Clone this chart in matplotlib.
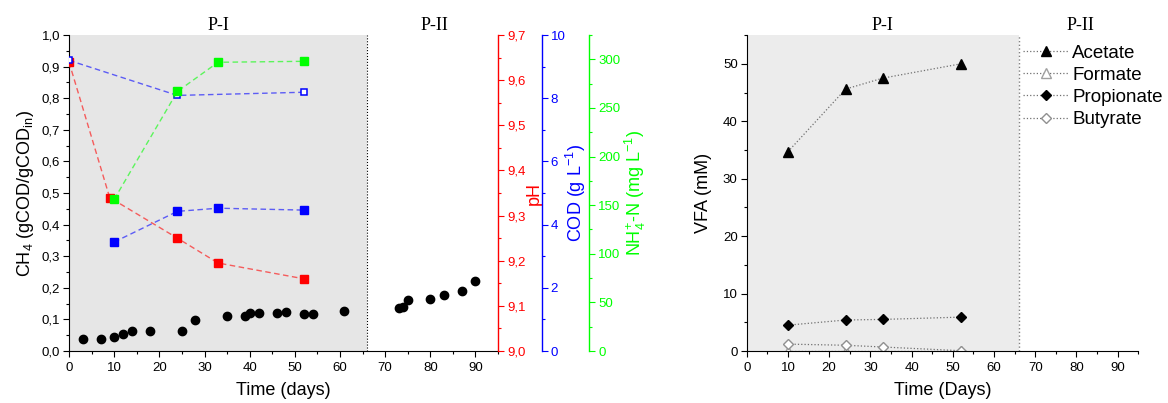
import numpy as np
import matplotlib.pyplot as plt
from matplotlib.ticker import MultipleLocator, FuncFormatter
import matplotlib.transforms as mtransforms

plt.rcParams['font.family'] = ['Liberation Sans', 'DejaVu Sans']
plt.rcParams['mathtext.fontset'] = 'custom'
plt.rcParams['mathtext.rm'] = 'Liberation Sans'
plt.rcParams['mathtext.it'] = 'Liberation Sans:italic'
plt.rcParams['mathtext.bf'] = 'Liberation Sans:bold'

# --- Daten ---
# CH4-Ausbeute (Phase I und II)
tage_ch4 = [3, 7, 10, 12, 14, 18, 25, 28, 35, 39, 40, 42, 46, 48, 52, 54, 61,
            73, 74, 75, 80, 83, 87, 90]
ch4 = [0.039, 0.039, 0.045, 0.053, 0.062, 0.062, 0.062, 0.099, 0.112, 0.112,
       0.119, 0.119, 0.119, 0.122, 0.118, 0.117, 0.127,
       0.135, 0.140, 0.162, 0.165, 0.176, 0.189, 0.221]

tage_ph = [0, 9, 24, 33, 52]
ph = [9.64, 9.34, 9.25, 9.195, 9.16]

tage_cod_ein = [0, 24, 52]
cod_ein = [9.2, 8.09, 8.19]
tage_cod = [10, 24, 33, 52]
cod = [3.45, 4.42, 4.52, 4.46]

tage_nh4 = [10, 24, 33, 52]
nh4 = [156, 267, 297, 298]

# Fettsäuren
tage_vfa = [10, 24, 33, 52]
acetat = [34.7, 45.6, 47.5, 50.0]
formiat = [0, 0, 0, 0]
propionat = [4.5, 5.4, 5.5, 5.9]
butyrat = [1.2, 1.0, 0.7, 0.05]

phase_ende = 66
phasen = ["P-I", "P-II"]
phasen_mitte = [33, 81]

ROT = '#ff0000'
BLAU = '#0000ff'
GRUEN = '#00ff00'


def komma1(v, pos):
    return f"{v:.1f}".replace('.', ',')


def ganzzahl(v, pos):
    return f"{v:.0f}"


def ticks_setzen(ax, farbe='k'):
    ax.tick_params(axis='y', which='major', direction='out', length=4.5, width=0.8,
                   colors=farbe, labelsize=9.5, pad=2)
    ax.tick_params(axis='y', which='minor', direction='out', length=2.5, width=0.8,
                   colors=farbe)


def phasen_titel(ax):
    trans = mtransforms.blended_transform_factory(ax.transData, ax.transAxes)
    for name, x in zip(phasen, phasen_mitte):
        ax.text(x, 1.03, name, transform=trans, ha='center', va='center',
                fontsize=13, family=['Liberation Serif'])


fig = plt.figure(figsize=(11.68, 4.03), dpi=100)

# --- linkes Diagramm ---
ax1 = fig.add_axes([0.0591, 0.129, 0.3673, 0.784])
ax1.axvspan(0, phase_ende, color='#e6e6e6', zorder=0, lw=0)
ax1.axvline(phase_ende, color='k', ls=':', lw=0.8)
ax1.plot(tage_ch4, ch4, 'o', color='k', ms=6, zorder=3)
ax1.set_xlim(0, 95)
ax1.set_ylim(0, 1.0)
ax1.set_xticks(np.arange(0, 91, 10))
ax1.xaxis.set_minor_locator(MultipleLocator(5))
ax1.yaxis.set_major_locator(MultipleLocator(0.1))
ax1.yaxis.set_minor_locator(MultipleLocator(0.05))
ax1.yaxis.set_major_formatter(FuncFormatter(komma1))
ax1.tick_params(axis='x', which='major', direction='out', length=4.5, width=0.8, labelsize=9.5)
ax1.tick_params(axis='x', which='minor', direction='out', length=2.5, width=0.8)
ticks_setzen(ax1)
for s in ['top', 'right']:
    ax1.spines[s].set_visible(False)
ax1.set_xlabel("Time (days)", fontsize=13, labelpad=6)
ax1.set_ylabel(r"CH$_4$ (gCOD/gCOD$_{\mathrm{in}}$)", fontsize=13, labelpad=4)
phasen_titel(ax1)

# pH-Achse
ax_ph = ax1.twinx()
ax_ph.plot(tage_ph, ph, ls=(0, (4, 2.5)), lw=1, color=ROT, alpha=0.6)
ax_ph.plot(tage_ph, ph, 's', color=ROT, ms=5.3, ls='none')
ax_ph.set_ylim(9.0, 9.7)
ax_ph.yaxis.set_major_locator(MultipleLocator(0.1))
ax_ph.yaxis.set_minor_locator(MultipleLocator(0.05))
ax_ph.yaxis.set_major_formatter(FuncFormatter(komma1))
ax_ph.set_ylabel("pH", color=ROT, fontsize=13, labelpad=0)

# CSB-Achse
ax_cod = ax1.twinx()
ax_cod.spines['right'].set_position(('axes', 1.1019))
ax_cod.plot(tage_cod_ein, cod_ein, ls=(0, (4, 2.5)), lw=1, color=BLAU, alpha=0.6)
ax_cod.plot(tage_cod_ein, cod_ein, 's', mfc='white', mec=BLAU, mew=1.1, ms=5, ls='none')
ax_cod.plot(tage_cod, cod, ls=(0, (4, 2.5)), lw=1, color=BLAU, alpha=0.6)
ax_cod.plot(tage_cod, cod, 's', color=BLAU, ms=5.3, ls='none')
ax_cod.set_ylim(0, 10)
ax_cod.yaxis.set_major_locator(MultipleLocator(2))
ax_cod.yaxis.set_minor_locator(MultipleLocator(1))
ax_cod.yaxis.set_major_formatter(FuncFormatter(ganzzahl))
ax_cod.set_ylabel("COD (g L$^{-1}$)", color=BLAU, fontsize=13, labelpad=-1)

# NH4-Achse
ax_nh4 = ax1.twinx()
ax_nh4.spines['right'].set_position(('axes', 1.212))
ax_nh4.plot(tage_nh4, nh4, ls=(0, (4, 2.5)), lw=1, color=GRUEN, alpha=0.6)
ax_nh4.plot(tage_nh4, nh4, 's', color=GRUEN, ms=5.3, ls='none')
ax_nh4.set_ylim(0, 325)
ax_nh4.yaxis.set_major_locator(MultipleLocator(50))
ax_nh4.yaxis.set_minor_locator(MultipleLocator(25))
ax_nh4.yaxis.set_major_formatter(FuncFormatter(ganzzahl))
ax_nh4.set_ylabel("NH$_4^{+}$-N (mg L$^{-1}$)", color=GRUEN, fontsize=13, labelpad=2)

for ax, farbe in [(ax_ph, ROT), (ax_cod, BLAU), (ax_nh4, GRUEN)]:
    ticks_setzen(ax, farbe)
    for s in ['top', 'left', 'bottom']:
        ax.spines[s].set_visible(False)
    ax.spines['right'].set_color(farbe)
    ax.spines['right'].set_linewidth(1.0)

# --- rechtes Diagramm ---
ax2 = fig.add_axes([0.6393, 0.129, 0.3353, 0.784])
ax2.axvspan(0, phase_ende, color='#ececec', zorder=0, lw=0)
ax2.axvline(phase_ende, color='#808080', ls=':', lw=1.0)
linie = dict(ls=':', lw=0.9, color='#707070')
ax2.plot(tage_vfa, acetat, marker='^', ms=6.5, mfc='k', mec='k', label='Acetate', **linie)
ax2.plot(tage_vfa, formiat, marker='^', ms=6.5, mfc='white', mec='#a0a0a0', label='Formate', **linie)
ax2.plot(tage_vfa, propionat, marker='D', ms=5.5, mfc='k', mec='k', label='Propionate', **linie)
ax2.plot(tage_vfa, butyrat, marker='D', ms=5.5, mfc='white', mec='#909090', label='Butyrate', **linie)
ax2.set_xlim(0, 95)
ax2.set_ylim(0, 55)
ax2.set_xticks(np.arange(0, 91, 10))
ax2.xaxis.set_minor_locator(MultipleLocator(5))
ax2.yaxis.set_major_locator(MultipleLocator(10))
ax2.yaxis.set_minor_locator(MultipleLocator(5))
ax2.tick_params(axis='x', which='major', direction='out', length=4.5, width=0.8, labelsize=9.5)
ax2.tick_params(axis='x', which='minor', direction='out', length=2.5, width=0.8)
ticks_setzen(ax2)
for s in ['top', 'right']:
    ax2.spines[s].set_visible(False)
ax2.set_xlabel("Time (Days)", fontsize=13, labelpad=6)
ax2.set_ylabel("VFA (mM)", fontsize=13, labelpad=8)
phasen_titel(ax2)
ax2.legend(loc='upper left', bbox_to_anchor=(0.7056, 0.970), borderaxespad=0,
           borderpad=0, handlelength=2.4, handletextpad=0.22, labelspacing=0.27,
           frameon=False, fontsize=13.5, numpoints=1)

fig.savefig("out.png", dpi=100)
